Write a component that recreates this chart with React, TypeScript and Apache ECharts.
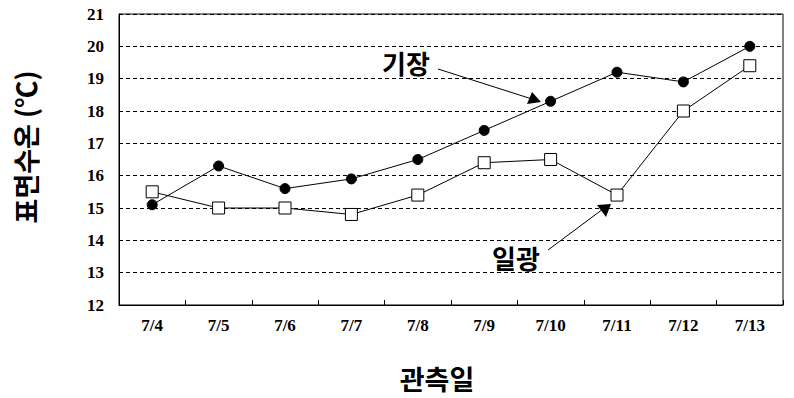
import React, { useEffect, useRef } from "react";
import * as echarts from "echarts";

const categories = ["7/4", "7/5", "7/6", "7/7", "7/8", "7/9", "7/10", "7/11", "7/12", "7/13"];
const gijang = [15.1, 16.3, 15.6, 15.9, 16.5, 17.4, 18.3, 19.2, 18.9, 20.0];
const ilgwang = [15.5, 15.0, 15.0, 14.8, 15.4, 16.4, 16.5, 15.4, 18.0, 19.4];
const yMin = 12;
const yMax = 21;
const yTitle = "표면수온 (℃)";
const xTitle = "관측일";

export default function App() {
  const ref = useRef<HTMLDivElement>(null);
  useEffect(() => {
    if (!ref.current) return;
    const chart = echarts.init(ref.current, null, { renderer: "svg" });
    const kfont = "'Noto Sans CJK KR', sans-serif";
    const sfont = "'Liberation Serif', serif";
    chart.setOption({
      animation: false,
      backgroundColor: "#ffffff",
      grid: {
        left: 119,
        right: 11,
        top: 14,
        bottom: 93,
        show: true,
        borderColor: "#000",
        borderWidth: 1,
        backgroundColor: "transparent",
        containLabel: false,
        outerBoundsMode: "none",
      },
      xAxis: {
        type: "category",
        data: categories,
        boundaryGap: true,
        axisLine: { show: true, lineStyle: { color: "#000", width: 1 } },
        axisTick: { show: true, inside: true, length: 5, lineStyle: { color: "#000" } },
        axisLabel: {
          color: "#000",
          fontFamily: sfont,
          fontWeight: "bold",
          fontSize: 17,
          margin: 12,
        },
        splitLine: { show: false },
      },
      yAxis: {
        type: "value",
        min: yMin,
        max: yMax,
        interval: 1,
        axisLine: { show: true, lineStyle: { color: "#000", width: 1 } },
        axisTick: { show: false },
        axisLabel: {
          color: "#000",
          fontFamily: sfont,
          fontWeight: "bold",
          fontSize: 17,
          margin: 15,
        },
        splitLine: {
          show: true,
          lineStyle: { color: "#000", type: [4, 3], width: 1 },
        },
      },
      series: [
        {
          name: "기장",
          type: "line",
          data: gijang,
          symbol: "circle",
          symbolSize: 10,
          lineStyle: { color: "#000", width: 1 },
          itemStyle: { color: "#000", borderColor: "#000" },
        },
        {
          name: "일광",
          type: "line",
          data: ilgwang,
          symbol: "rect",
          symbolSize: 12,
          lineStyle: { color: "#000", width: 1 },
          itemStyle: { color: "#fff", borderColor: "#000", borderWidth: 1 },
        },
      ],
      graphic: [
        {
          type: "text",
          x: 25,
          y: 147,
          rotation: Math.PI / 2,
          style: {
            text: yTitle,
            fontFamily: kfont,
            fontWeight: "bold",
            fontSize: 27,
            fill: "#000",
            align: "center",
            verticalAlign: "middle",
          },
        },
        {
          type: "text",
          x: 437,
          y: 378,
          style: {
            text: xTitle,
            fontFamily: kfont,
            fontWeight: "bold",
            fontSize: 27,
            fill: "#000",
            align: "center",
            verticalAlign: "middle",
          },
        },
        {
          type: "text",
          x: 382,
          y: 62,
          style: {
            text: "기장",
            fontFamily: kfont,
            fontWeight: "bold",
            fontSize: 26,
            fill: "#000",
            verticalAlign: "middle",
          },
        },
        {
          type: "line",
          shape: { x1: 438, y1: 69, x2: 532, y2: 99 },
          style: { stroke: "#000", lineWidth: 1 },
        },
        {
          type: "polygon",
          shape: { points: [[541, 102], [527, 104], [532, 92]] },
          style: { fill: "#000" },
        },
        {
          type: "text",
          x: 492,
          y: 257,
          style: {
            text: "일광",
            fontFamily: kfont,
            fontWeight: "bold",
            fontSize: 26,
            fill: "#000",
            verticalAlign: "middle",
          },
        },
        {
          type: "line",
          shape: { x1: 548, y1: 250, x2: 603, y2: 209 },
          style: { stroke: "#000", lineWidth: 1 },
        },
        {
          type: "polygon",
          shape: { points: [[611, 204], [597, 205], [606, 217]] },
          style: { fill: "#000" },
        },
      ],
    });
    return () => chart.dispose();
  }, []);
  return <div ref={ref} style={{ width: 794, height: 398, position: "absolute", left: 0, top: 0 }} />;
}
